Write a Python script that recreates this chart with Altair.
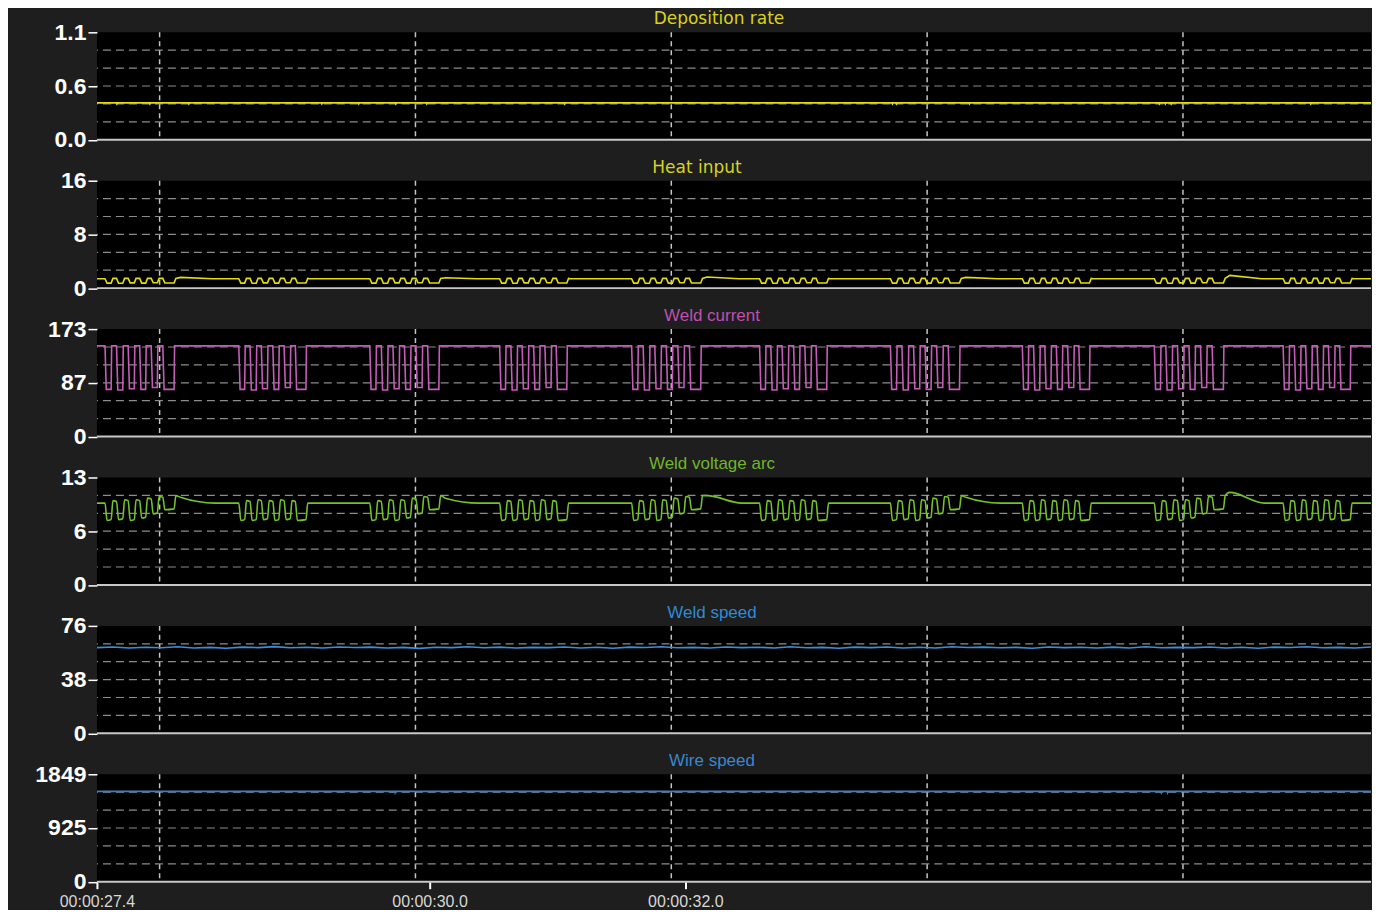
import altair as alt
import pandas as pd

# ---------------- axes / layout values ----------------
x_domain = [27.4, 37.36]
x_tick_values = [27.4, 30.0, 32.0]
x_tick_labels = ["00:00:27.4", "00:00:30.0", "00:00:32.0"]
v_grid_t = [27.89, 29.89, 31.89, 33.89, 35.89]

titles = ["Deposition rate", "Heat input", "Weld current", "Weld voltage arc", "Weld speed", "Wire speed"]
y_max = [1.1, 16, 173, 13, 76, 1849]
y_tick_vals = [[0, 0.55, 1.1], [0, 8, 16], [0, 86.5, 173], [0, 6.5, 13], [0, 38, 76], [0, 924.5, 1849]]
y_tick_labs = [["0.0", "0.6", "1.1"], ["0", "8", "16"], ["0", "87", "173"], ["0", "6", "13"],
               ["0", "38", "76"], ["0", "925", "1849"]]

# ---------------- series values ----------------
# start of every pulse burst (s)
burst_start = [27.463, 28.509, 29.533, 30.548, 31.580, 32.580, 33.603, 34.634, 35.666, 36.673]
# dip onsets / recoveries inside a burst (s after burst start), two observed variants
dip_down_a = [0.000, 0.090, 0.181, 0.271, 0.361, 0.452]
dip_up_a = [0.048, 0.139, 0.229, 0.318, 0.409, 0.540]
dip_down_b = [0.000, 0.088, 0.176, 0.266, 0.354, 0.442]
dip_up_b = [0.046, 0.136, 0.224, 0.312, 0.402, 0.525]

current_high = 146
current_low = [76, 75, 77, 76, 79, 76]

volt_flat = 9.9
volt_trough_a = [7.8, 7.9, 7.8, 8.1, 8.6, 9.1]
volt_peak_a = [10.2, 10.3, 10.3, 10.5, 10.7, 10.8]
volt_trough_b = [7.8, 7.8, 7.9, 7.8, 7.9, 7.8]
volt_peak_b = [10.2, 10.3, 10.2, 10.3, 10.2, 9.9]
volt_bump = [10.6, 0, 10.5, 0, 10.8, 0, 10.6, 0, 11.2, 0]

heat_flat = 1.40
heat_low = [0.75, 0.72, 0.78, 0.74, 0.80, 0.76]
heat_peak = 1.45
heat_bump = [1.6, 0, 1.55, 0, 1.65, 0, 1.6, 0, 1.9, 0]

dep_level = 0.377
dep_dip_t = [27.556, 27.814, 28.119, 29.158, 29.447, 29.736, 29.978, 31.056, 33.619,
             33.650, 34.220, 35.705, 35.752, 35.798, 36.888]
dep_dip_v = 0.366

wire_level = 1555
wire_dip_t = [29.73, 35.72, 35.77]
wire_dip_v = 1530

speed_v = [60.6, 61.1, 60.3, 60.9, 60.5, 61.2, 60.4, 60.8, 60.2, 61.0, 60.6, 61.3, 60.5, 60.9,
           60.3, 61.1, 60.7, 61.0, 60.4, 60.8, 60.1, 60.9, 60.6, 61.2, 60.5, 61.0, 60.3, 60.8,
           60.6, 61.1, 60.4, 60.9, 60.2, 61.0, 60.7, 61.2, 60.5, 60.8, 60.3, 61.1, 60.6, 60.9,
           60.4, 61.2, 60.5, 60.8, 60.2, 61.0, 60.6, 61.1, 60.4, 60.9, 60.3, 61.2, 60.7, 61.0,
           60.5, 60.8, 60.2, 61.1, 60.6, 60.9, 60.4, 61.0, 60.3, 61.2, 60.5, 60.8, 60.6, 61.1,
           60.4, 60.9, 60.2, 61.0, 60.7, 61.2, 60.5, 60.8, 60.3, 61.1]

# ---------------- build tables ----------------
cur = [(x_domain[0], current_high)]
volt = [(x_domain[0], volt_flat)]
heat = [(x_domain[0], heat_flat)]
for b, s in enumerate(burst_start):
    first = b % 2 == 0
    downs = dip_down_a if first else dip_down_b
    ups = dip_up_a if first else dip_up_b
    vtr = volt_trough_a if first else volt_trough_b
    vpk = volt_peak_a if first else volt_peak_b
    prev_v = volt_flat
    prev_h = heat_flat
    for k in range(len(downs)):
        d = s + downs[k]
        u = s + ups[k]
        cur += [(d, current_high), (d + 0.010, current_low[k]), (u, current_low[k]), (u + 0.004, current_high)]
        volt += [(d, prev_v), (d + 0.016, vtr[k]), (u, vtr[k] + 0.1), (u + 0.014, vpk[k])]
        heat += [(d, prev_h), (d + 0.016, heat_low[k]), (u, heat_low[k]), (u + 0.014, heat_peak)]
        prev_v = vpk[k] - 0.1
        prev_h = heat_peak
    last_u = s + ups[-1]
    if volt_bump[b] > 0:
        volt += [(last_u + 0.05, volt_bump[b]), (last_u + 0.32, volt_flat)]
        heat += [(last_u + 0.05, heat_bump[b]), (last_u + 0.30, heat_flat)]
    else:
        volt += [(last_u + 0.03, volt_flat)]
        heat += [(last_u + 0.03, heat_flat)]
cur.append((x_domain[1], current_high))
volt.append((x_domain[1], volt_flat))
heat.append((x_domain[1], heat_flat))

dep = [(x_domain[0], dep_level)]
for t in dep_dip_t:
    dep += [(t - 0.004, dep_level), (t, dep_dip_v), (t + 0.004, dep_level)]
dep.append((x_domain[1], dep_level))

wire = [(x_domain[0], wire_level)]
for t in wire_dip_t:
    wire += [(t - 0.004, wire_level), (t, wire_dip_v), (t + 0.004, wire_level)]
wire.append((x_domain[1], wire_level))

n = len(speed_v)
speed = [(x_domain[0] + (x_domain[1] - x_domain[0]) * i / (n - 1), v) for i, v in enumerate(speed_v)]

series = [dep, heat, cur, volt, speed, wire]
dfs = [pd.DataFrame(s, columns=["t", "v"]) for s in series]

line_colors = ["#e2dc10", "#e2dc10", "#c45cb8", "#74c22a", "#3b8fd9", "#3d80c6"]
title_colors = ["#d9d21f", "#d9d21f", "#c04fb0", "#6fb52a", "#2e8ad6", "#3a87d0"]
title_fonts = ["DejaVu Sans", "DejaVu Sans", "Liberation Sans", "Liberation Sans", "Liberation Sans", "Liberation Sans"]
title_dx = [-15, -37, -22, -22, -22, -22]
interps = ["linear", "linear", "linear", "monotone", "linear", "linear"]

PLOT_W = 1275
PLOT_H = 107.5

vgrid_df = pd.DataFrame({"t": v_grid_t})


def label_expr(vals, labs):
    parts = [f"datum.value == {v} ? '{l}'" for v, l in zip(vals, labs)]
    return " : ".join(parts) + " : ''"


panels = []
for i in range(6):
    ymax = y_max[i]
    yscale = alt.Scale(domain=[0, ymax], nice=False, zero=True)
    xscale = alt.Scale(domain=x_domain, nice=False, zero=False)
    hgrid_df = pd.DataFrame({"v": [ymax * k / 6 for k in range(1, 6)]})
    base_df = pd.DataFrame({"v": [0]})

    yaxis = alt.Axis(values=y_tick_vals[i], labelExpr=label_expr(y_tick_vals[i], y_tick_labs[i]),
                     domain=False, grid=False, ticks=True, tickColor="#ffffff", tickSize=9, tickWidth=1.5,
                     labelColor="#ffffff", labelFont="Liberation Sans", labelFontSize=23, labelFontWeight="bold",
                     labelPadding=2, labelBaseline="middle", minExtent=89, maxExtent=89, title=None,
                     labelOverlap=False, labelFlush=False)
    if i == 5:
        xaxis = alt.Axis(values=x_tick_values, labelExpr=label_expr(x_tick_values, x_tick_labels),
                         domain=False, grid=False, ticks=True, tickColor="#ffffff", tickSize=7, tickWidth=2,
                         labelColor="#d8d8d8", labelFont="Liberation Sans", labelFontSize=16,
                         labelPadding=5, title=None, labelOverlap=False, labelFlush=False)
    else:
        xaxis = None

    grid_h = alt.Chart(hgrid_df).mark_rule(color="#8c8c8c", strokeDash=[8, 5], strokeWidth=1.2).encode(
        y=alt.Y("v:Q", scale=yscale, axis=yaxis))
    grid_v = alt.Chart(vgrid_df).mark_rule(color="#c4c4c4", strokeDash=[5, 4], strokeWidth=1.5).encode(
        x=alt.X("t:Q", scale=xscale, axis=xaxis))
    baseline = alt.Chart(base_df).mark_rule(color="#c8c8c8", strokeWidth=2).encode(
        y=alt.Y("v:Q", scale=yscale, axis=yaxis))
    line = alt.Chart(dfs[i]).mark_line(color=line_colors[i], strokeWidth=1.6, clip=True,
                                       interpolate=interps[i]).encode(
        x=alt.X("t:Q", scale=xscale, axis=xaxis),
        y=alt.Y("v:Q", scale=yscale, axis=yaxis))

    panel = alt.layer(grid_h, grid_v, baseline, line).properties(
        width=PLOT_W, height=PLOT_H,
        title=alt.TitleParams(text=titles[i], color=title_colors[i], font=title_fonts[i], fontSize=17,
                              fontWeight="normal", anchor="middle", frame="group", dx=title_dx[i], offset=-7))
    panels.append(panel)

chart = alt.vconcat(*panels, spacing=40.5, bounds="flush").properties(
    background="#1e1e1e",
    padding={"left": 0, "top": 2, "right": 0, "bottom": 0},
).configure_view(fill="#000000", strokeWidth=0)

chart.save("out.html", embed_options={"renderer": "svg", "actions": False})
